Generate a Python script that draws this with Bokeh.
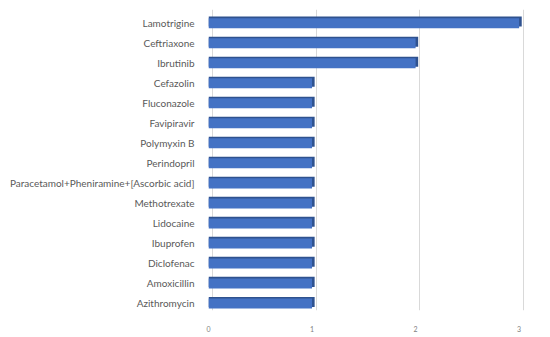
from bokeh.plotting import figure
from bokeh.models import Range1d, FixedTicker, Grid, ColumnDataSource
from bokeh.embed import file_html
from bokeh.resources import INLINE

drugs = ["Lamotrigine", "Ceftriaxone", "Ibrutinib", "Cefazolin", "Fluconazole",
         "Favipiravir", "Polymyxin B", "Perindopril",
         "Paracetamol+Pheniramine+[Ascorbic acid]", "Methotrexate", "Lidocaine",
         "Ibuprofen", "Diclofenac", "Amoxicillin", "Azithromycin"]
counts = [3, 2, 2, 1, 1, 1, 1, 1, 1, 1, 1, 1, 1, 1, 1]
x_ticks = [0, 1, 2, 3]

pos = list(range(len(drugs)))
n = len(drugs)

px_per_unit = 321 / 3.1
shift = 4 / px_per_unit  # 3D depth offset of the back wall

p = figure(width=550, height=337, output_backend="svg", toolbar_location=None,
           x_range=Range1d(0, 3.1), y_range=Range1d(n - 1 + 0.35, -0.685),
           min_border_left=208, min_border_right=21, min_border_top=9,
           min_border_bottom=27)
p.outline_line_color = None
p.background_fill_color = "white"
p.border_fill_color = "white"
p.xgrid.visible = False
p.ygrid.visible = False

p.extra_x_ranges = {"grid": Range1d(-shift, 3.1 - shift)}
g = Grid(dimension=0, ticker=FixedTicker(ticks=x_ticks), x_range_name="grid",
         grid_line_color="#d9d9d9", grid_line_width=1)
p.add_layout(g)

src = ColumnDataSource(dict(
    y=pos, right=counts,
    y_back=[v - 0.08 for v in pos],
    right_back=[c + 0.025 for c in counts],
))

p.hbar(y="y_back", right="right_back", left=0, height=0.5, source=src,
       fill_color="#2F528F", line_color=None)
p.hbar(y="y", right="right", left=0, height=0.5, source=src,
       fill_color="#4472C4", line_color=None)

p.yaxis.ticker = FixedTicker(ticks=pos)
p.yaxis.major_label_overrides = {i: d for i, d in zip(pos, drugs)}
p.yaxis.axis_line_color = None
p.yaxis.major_tick_line_color = None
p.yaxis.minor_tick_line_color = None
p.yaxis.major_label_text_font = "Lato"
p.yaxis.major_label_text_font_size = "10px"
p.yaxis.major_label_text_color = "#595959"
p.yaxis.major_label_standoff = 8

p.xaxis.ticker = FixedTicker(ticks=x_ticks)
p.xaxis.axis_line_color = None
p.xaxis.major_tick_line_color = None
p.xaxis.minor_tick_line_color = None
p.xaxis.major_label_text_font = "Lato"
p.xaxis.major_label_text_font_size = "7px"
p.xaxis.major_label_text_color = "#7f7f7f"
p.xaxis.major_label_standoff = 9

open("out.html", "w").write(file_html(p, INLINE))
